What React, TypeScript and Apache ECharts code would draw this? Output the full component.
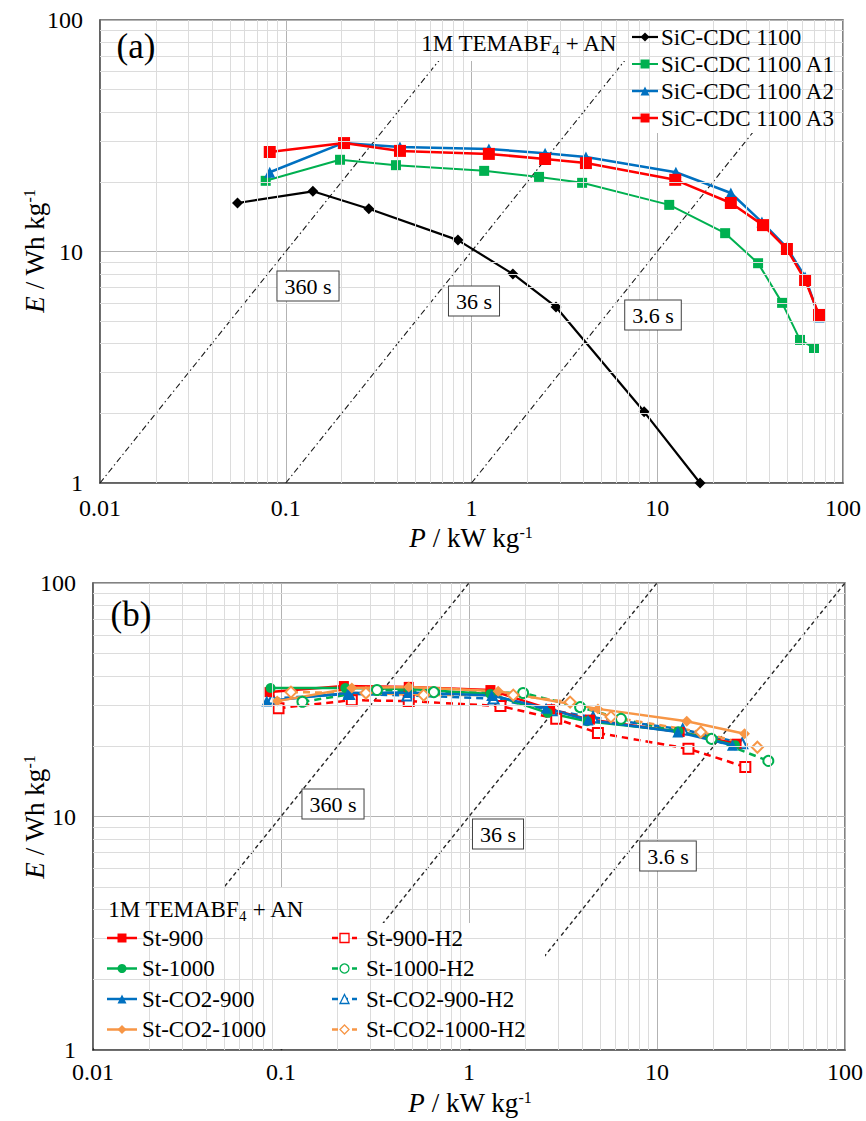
import React, { useEffect, useRef } from "react";
import * as echarts from "echarts";

const FONT = "'Liberation Serif', 'Times New Roman', Times, serif";

// Axis decades (kW/kg on x, Wh/kg on y)
const powerDecades = [0.01, 0.1, 1, 10, 100];
const energyDecades = [1, 10, 100];

// Characteristic discharge times of the Ragone guide lines, in seconds
const dischargeTimes = [360, 36, 3.6];
const dischargeLabels = ["360 s", "36 s", "3.6 s"];

// ---------- panel (a): SiC-CDC 1100 family ----------
const sicNames = ["SiC-CDC 1100", "SiC-CDC 1100 A1", "SiC-CDC 1100 A2", "SiC-CDC 1100 A3"];
const sicP = [0.055, 0.14, 0.28, 0.845, 1.67, 2.85, 8.5, 17.0];
const sicE = [16.2, 18.2, 15.3, 11.2, 8.0, 5.76, 2.03, 1.0];
const a1P = [0.078, 0.196, 0.392, 1.17, 2.31, 3.94, 11.6, 23.2, 34.9, 47.0, 58.7, 69.8];
const a1E = [20.2, 24.9, 23.6, 22.3, 21.0, 19.8, 15.9, 12.0, 8.9, 6.0, 4.15, 3.83];
const a2P = [0.082, 0.203, 0.412, 1.24, 2.49, 4.13, 12.6, 24.9, 36.6, 49.9, 62.5, 74.3];
const a2E = [22.0, 29.4, 28.3, 27.7, 26.6, 25.6, 22.0, 17.9, 13.4, 10.4, 7.76, 5.21];
const a3P = [0.082, 0.206, 0.412, 1.24, 2.49, 4.13, 12.5, 24.9, 37.1, 49.9, 62.5, 74.3];
const a3E = [26.9, 29.4, 27.2, 26.4, 25.1, 24.1, 20.4, 16.2, 13.0, 10.25, 7.53, 5.32];

// ---------- panel (b): starch-derived carbons ----------
const stNames = ["St-900", "St-1000", "St-CO2-900", "St-CO2-1000"];
const stH2Names = ["St-900-H2", "St-1000-H2", "St-CO2-900-H2", "St-CO2-1000-H2"];
const st900P = [0.087, 0.216, 0.478, 1.3, 2.7, 4.4, 13.2, 26.5];
const st900E = [34.1, 36.2, 35.9, 34.8, 28.8, 26.0, 23.0, 20.5];
const st1000P = [0.088, 0.22, 0.48, 1.3, 2.62, 4.25, 13.0, 26.0];
const st1000E = [35.5, 35.5, 35.2, 33.5, 27.8, 25.6, 23.2, 20.2];
const stCo900P = [0.084, 0.228, 0.48, 1.32, 2.57, 4.3, 12.9, 25.2];
const stCo900E = [31.2, 33.8, 34.0, 33.0, 29.1, 25.9, 23.0, 20.2];
const stCo1000P = [0.0955, 0.238, 0.478, 1.43, 4.85, 14.4, 29.2];
const stCo1000E = [31.2, 35.5, 35.9, 34.4, 28.9, 25.6, 22.6];
const st900H2P = [0.097, 0.238, 0.478, 1.47, 2.91, 4.85, 14.7, 29.5];
const st900H2E = [29.1, 31.5, 31.2, 29.7, 26.2, 22.8, 19.5, 16.3];
const st1000H2P = [0.13, 0.324, 0.65, 1.94, 3.9, 6.43, 19.5, 39.1];
const st1000H2E = [31.0, 34.8, 34.1, 33.8, 29.4, 26.2, 21.5, 17.3];
const stCo900H2P = [0.09, 0.23, 0.47, 1.35, 2.75, 4.57, 13.7, 28.4];
const stCo900H2E = [32.0, 33.5, 33.0, 32.0, 28.5, 26.6, 23.6, 20.6];
const stCo1000H2P = [0.113, 0.283, 0.574, 1.72, 3.45, 5.69, 17.1, 34.2];
const stCo1000H2E = [34.1, 33.8, 33.1, 33.1, 30.9, 26.7, 23.0, 19.8];

const RED = "#ff0000";
const GREEN = "#00b050";
const BLUE = "#0070c0";
const ORANGE = "#f79646";

type Look = { color: string; symbol: string; size: number; width: number; dashed?: boolean };

// drawing style of every series, shared by the plot and its key
const looks: Record<string, Look> = {
  "SiC-CDC 1100": { color: "#000000", symbol: "diamond", size: 11, width: 2.2 },
  "SiC-CDC 1100 A1": { color: GREEN, symbol: "rect", size: 10, width: 2 },
  "SiC-CDC 1100 A2": { color: BLUE, symbol: "triangle", size: 11, width: 2.5 },
  "SiC-CDC 1100 A3": { color: RED, symbol: "rect", size: 12, width: 2.5 },
  "St-900": { color: RED, symbol: "rect", size: 10, width: 2.5 },
  "St-1000": { color: GREEN, symbol: "circle", size: 10, width: 2.5 },
  "St-CO2-900": { color: BLUE, symbol: "triangle", size: 11, width: 2.5 },
  "St-CO2-1000": { color: ORANGE, symbol: "diamond", size: 11, width: 2.5 },
  "St-900-H2": { color: RED, symbol: "emptyRect", size: 10, width: 2.5, dashed: true },
  "St-1000-H2": { color: GREEN, symbol: "emptyCircle", size: 10, width: 2.5, dashed: true },
  "St-CO2-900-H2": { color: BLUE, symbol: "emptyTriangle", size: 10, width: 2.5, dashed: true },
  "St-CO2-1000-H2": { color: ORANGE, symbol: "emptyDiamond", size: 11, width: 2.5, dashed: true },
};

const zip = (p: number[], e: number[]) => p.map((v, i) => [v, e[i]]);

const fmtNum = (v: number) => String(Number(Number(v).toPrecision(6)));

// minor grid values 2..9 within each decade
const minorValues = (from: number, to: number) => {
  const out: number[] = [];
  for (let d = from; d < to; d *= 10) {
    for (let m = 2; m <= 9; m++) out.push(Number((m * d).toPrecision(6)));
  }
  return out;
};

// ----- key (legend) glyphs drawn with graphic elements -----
function keyMarker(cx: number, cy: number, look: Look, s: number) {
  const empty = look.symbol.startsWith("empty");
  const kind = empty ? look.symbol.slice(5).toLowerCase() : look.symbol;
  const style = empty
    ? { fill: "#ffffff", stroke: look.color, lineWidth: 1.3 }
    : { fill: look.color, stroke: look.color, lineWidth: 0 };
  const h = s / 2;
  const base = { silent: true, z: 7, style };
  if (kind === "rect") return { type: "rect", shape: { x: cx - h, y: cy - h, width: s, height: s }, ...base };
  if (kind === "circle") return { type: "circle", shape: { cx, cy, r: h }, ...base };
  if (kind === "triangle")
    return { type: "polygon", shape: { points: [[cx, cy - h], [cx + h, cy + h], [cx - h, cy + h]] }, ...base };
  return { type: "polygon", shape: { points: [[cx, cy - h], [cx + h, cy], [cx, cy + h], [cx - h, cy]] }, ...base };
}

function keyItem(name: string, x1: number, x2: number, y: number, textX: number, markerSize: number) {
  const look = looks[name];
  return [
    {
      type: "line",
      silent: true,
      z: 6,
      shape: { x1, y1: y, x2, y2: y },
      style: { stroke: look.color, lineWidth: look.width, lineDash: look.dashed ? [6, 4] : null },
    },
    keyMarker((x1 + x2) / 2, y, look, markerSize),
    {
      type: "text",
      silent: true,
      z: 7,
      x: textX,
      y,
      style: {
        text: name,
        fontFamily: FONT,
        fontSize: 23,
        fill: "#000",
        align: "left",
        verticalAlign: "middle",
        textAlign: "left",
        textVerticalAlign: "middle",
      },
    },
  ];
}

function buildOption() {
  const grids = [
    { left: 100, top: 20, width: 743, height: 463 },
    { left: 93, top: 583, width: 755, height: 467 },
  ].map((g) => ({ ...g, show: true, borderColor: "#595959", borderWidth: 1.5, backgroundColor: "transparent" }));

  const xAxes = [0, 1].map((gi) => ({
    type: "log",
    logBase: 10,
    gridIndex: gi,
    min: powerDecades[0],
    max: powerDecades[powerDecades.length - 1],
    axisLine: { show: true, lineStyle: { color: "#595959", width: 1.5 } },
    axisTick: { show: false },
    splitLine: { show: true, lineStyle: { color: "#b3b3b3", width: 1 } },
    axisLabel: { fontFamily: FONT, fontSize: 24, color: "#000", margin: gi === 0 ? 13 : 10, formatter: fmtNum },
  }));
  const yAxes = [0, 1].map((gi) => ({
    type: "log",
    logBase: 10,
    gridIndex: gi,
    min: energyDecades[0],
    max: energyDecades[energyDecades.length - 1],
    axisLine: { show: true, lineStyle: { color: "#595959", width: 1.5 } },
    axisTick: { show: false },
    splitLine: { show: true, lineStyle: { color: "#b3b3b3", width: 1 } },
    axisLabel: { fontFamily: FONT, fontSize: 24, color: "#000", margin: 17, formatter: fmtNum },
  }));

  const minorX = minorValues(powerDecades[0], powerDecades[powerDecades.length - 1]);
  const minorY = minorValues(energyDecades[0], energyDecades[energyDecades.length - 1]);

  const gridSeries = [0, 1].map((gi) => ({
    type: "line",
    name: "minor-grid-" + gi,
    xAxisIndex: gi,
    yAxisIndex: gi,
    data: [[1, 10]],
    symbol: "none",
    silent: true,
    z: 1,
    lineStyle: { opacity: 0 },
    markLine: {
      silent: true,
      symbol: "none",
      animation: false,
      label: { show: false },
      lineStyle: { color: "#dcdcdc", width: 1, type: "solid" },
      data: [...minorX.map((v) => ({ xAxis: v })), ...minorY.map((v) => ({ yAxis: v }))],
    },
  }));

  // Ragone guide lines: E [Wh/kg] = P [kW/kg] * t / 3.6
  const guideSeries: any[] = [];
  [0, 1].forEach((gi) => {
    dischargeTimes.forEach((t) => {
      const pLow = (energyDecades[0] * 3.6) / t;
      const pHigh = (energyDecades[energyDecades.length - 1] * 3.6) / t;
      guideSeries.push({
        type: "line",
        name: "guide-" + gi + "-" + t,
        xAxisIndex: gi,
        yAxisIndex: gi,
        data: [
          [pLow, energyDecades[0]],
          [pHigh, energyDecades[energyDecades.length - 1]],
        ],
        symbol: "none",
        silent: true,
        z: 1,
        lineStyle:
          gi === 0
            ? { color: "#1a1a1a", width: 1.1, type: [6, 3, 1.5, 3] }
            : { color: "#262626", width: 1.4, type: [4, 3] },
      });
    });
  });

  const mk = (name: string, p: number[], e: number[], gi: number) => {
    const look = looks[name];
    return {
      type: "line",
      name,
      xAxisIndex: gi,
      yAxisIndex: gi,
      data: zip(p, e),
      symbol: look.symbol,
      symbolSize: look.size,
      showAllSymbol: true,
      z: 2,
      lineStyle: { color: look.color, width: look.width, type: look.dashed ? [7, 5] : "solid" },
      itemStyle: {
        color: look.color,
        borderColor: look.color,
        borderWidth: look.symbol.startsWith("empty") ? 1.3 : 0,
      },
    };
  };

  const dataSeries = [
    mk(sicNames[0], sicP, sicE, 0),
    mk(sicNames[1], a1P, a1E, 0),
    mk(sicNames[2], a2P, a2E, 0),
    mk(sicNames[3], a3P, a3E, 0),
    mk(stH2Names[0], st900H2P, st900H2E, 1),
    mk(stH2Names[1], st1000H2P, st1000H2E, 1),
    mk(stH2Names[2], stCo900H2P, stCo900H2E, 1),
    mk(stH2Names[3], stCo1000H2P, stCo1000H2E, 1),
    mk(stNames[0], st900P, st900E, 1),
    mk(stNames[1], st1000P, st1000E, 1),
    mk(stNames[2], stCo900P, stCo900E, 1),
    mk(stNames[3], stCo1000P, stCo1000E, 1),
  ];

  const whiteBox = (x: number, y: number, w: number, h: number) => ({
    type: "rect",
    silent: true,
    z: 3,
    shape: { x, y, width: w, height: h },
    style: { fill: "#ffffff" },
  });

  const txt = (x: number, y: number, text: string, fontSize: number, extra: any = {}) => ({
    type: "text",
    silent: true,
    z: 6,
    x,
    y,
    ...extra.el,
    style: {
      text,
      fontFamily: FONT,
      fontSize,
      fill: "#000",
      align: "center",
      verticalAlign: "middle",
      textAlign: "center",
      textVerticalAlign: "middle",
      ...extra.style,
    },
  });

  const TITLE = 27;
  const richAxis = {
    i: { fontFamily: FONT, fontSize: TITLE, fontStyle: "italic", fill: "#000", lineHeight: 27 },
    n: { fontFamily: FONT, fontSize: TITLE, fill: "#000", lineHeight: 27 },
    sup: { fontFamily: FONT, fontSize: 16, verticalAlign: "top", fill: "#000", lineHeight: 14 },
  };
  const richSub = {
    n: { fontFamily: FONT, fontSize: 23, fill: "#000", lineHeight: 28 },
    sub: { fontFamily: FONT, fontSize: 15, verticalAlign: "bottom", fill: "#000", lineHeight: 18 },
  };
  const electrolyte = "{n|1M TEMABF}{sub|4}{n| + AN}";
  const pTitle = "{i|P}{n| / kW kg}{sup|-1}";
  const eTitle = "{i|E}{n| / Wh kg}{sup|-1}";

  const boxed = (x: number, y: number, text: string) =>
    txt(x, y, text, 22, {
      style: {
        backgroundColor: "#ffffff",
        borderColor: "#404040",
        borderWidth: 1,
        padding: [4, 7, 3, 7],
      },
    });

  const keyA = sicNames.flatMap((n, i) => keyItem(n, 632, 658, 37 + i * 27, 661, 9));
  const keyB1 = stNames.flatMap((n, i) => keyItem(n, 107, 137, 938 + i * 30.5, 142, 9));
  const keyB2 = stH2Names.flatMap((n, i) => keyItem(n, 332, 357, 938 + i * 30.5, 366, 9));

  const graphic = [
    // panel (a) covers
    whiteBox(101, 21, 66, 50),
    whiteBox(410, 21, 218, 40),
    whiteBox(628, 21, 214, 112),
    // panel (b) covers
    whiteBox(94, 584, 70, 56),
    whiteBox(94, 888, 226, 36),
    whiteBox(94, 923, 451, 126),
    // panel tags
    txt(136, 46, "(a)", 35),
    txt(131, 614, "(b)", 35),
    // electrolyte labels
    txt(519, 43, electrolyte, 23, { style: { rich: richSub } }),
    txt(206, 909, electrolyte, 23, { style: { rich: richSub } }),
    // discharge-time tags
    boxed(308, 286, dischargeLabels[0]),
    boxed(474, 301, dischargeLabels[1]),
    boxed(653, 315, dischargeLabels[2]),
    boxed(333, 804, dischargeLabels[0]),
    boxed(498, 834, dischargeLabels[1]),
    boxed(668, 856, dischargeLabels[2]),
    // axis titles
    txt(471, 538, pTitle, TITLE, { style: { rich: richAxis } }),
    txt(470, 1103, pTitle, TITLE, { style: { rich: richAxis } }),
    txt(35, 251, eTitle, TITLE, { el: { rotation: Math.PI / 2 }, style: { rich: richAxis } }),
    txt(35, 817, eTitle, TITLE, { el: { rotation: Math.PI / 2 }, style: { rich: richAxis } }),
    ...keyA,
    ...keyB1,
    ...keyB2,
  ];

  return {
    animation: false,
    backgroundColor: "#ffffff",
    grid: grids,
    xAxis: xAxes,
    yAxis: yAxes,
    series: [...gridSeries, ...guideSeries, ...dataSeries],
    graphic,
  };
}

export default function App() {
  const ref = useRef<HTMLDivElement>(null);
  useEffect(() => {
    document.body.style.margin = "0";
    if (!ref.current) return;
    const chart = echarts.init(ref.current, undefined, { renderer: "svg" });
    chart.setOption(buildOption() as any);
    return () => chart.dispose();
  }, []);
  return <div ref={ref} style={{ width: 866, height: 1121 }} />;
}
